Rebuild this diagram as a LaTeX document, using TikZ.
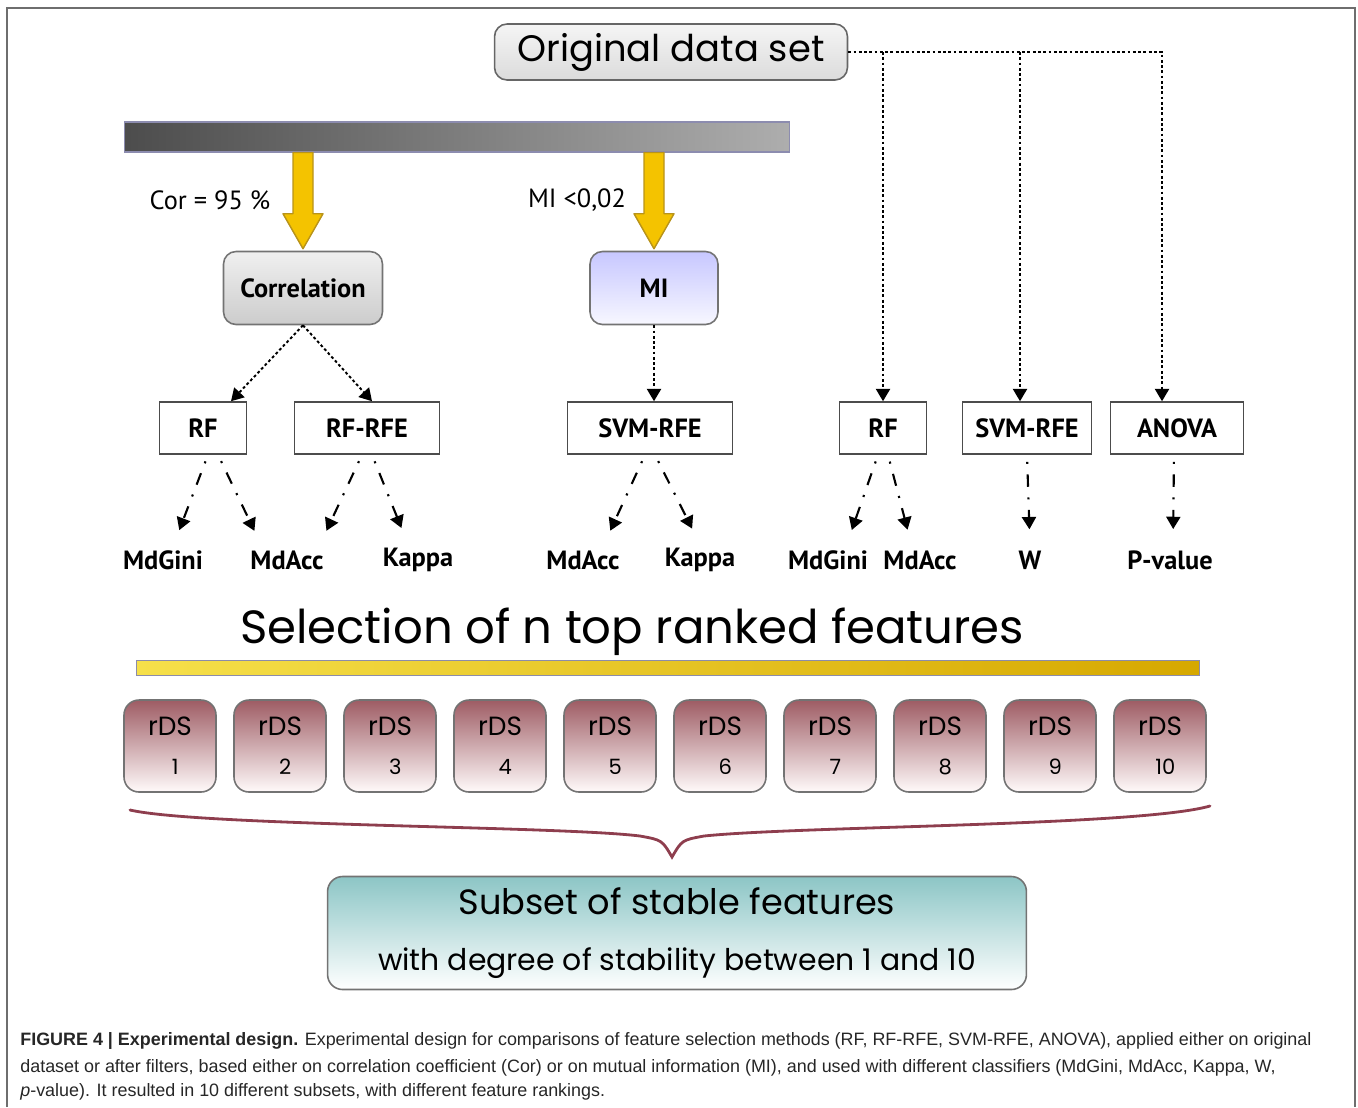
\documentclass[tikz,border=0pt]{standalone}
\usepackage{fontspec}
\setmainfont{Liberation Sans}
\newfontfamily\handfont{Poppins}
\newfontfamily\boxfont{PT Sans}
\usetikzlibrary{arrows.meta,calc}
\definecolor{frame}{HTML}{6E6E6E}
\definecolor{yelarrow}{HTML}{F4C300}
\definecolor{yeledge}{HTML}{B8931A}
\definecolor{bracecol}{HTML}{8E3E4E}
\definecolor{ybarleft}{HTML}{F6E04A}
\definecolor{ybarright}{HTML}{D6A800}
\definecolor{rdstop}{HTML}{9E5C64}
\tikzset{
  tip/.style={-{Triangle[width=8pt,length=7pt]}},
  method/.style={draw=black!70, line width=0.9pt, fill=white, inner sep=0pt,
    minimum height=1.04cm, font=\boxfont\bfseries\fontsize{15}{18}\selectfont},
  filter/.style={draw=black!55, line width=0.9pt, rounded corners=0.25cm, inner sep=0pt,
    minimum height=1.46cm, font=\boxfont\bfseries\fontsize{15}{18}\selectfont},
  clf/.style={font=\boxfont\bfseries\fontsize{15}{18}\selectfont, inner sep=2pt},
  dotline/.style={line width=1.1pt, dash pattern=on 1.6pt off 1.4pt, tip},
  dashdot/.style={line width=1.2pt, dash pattern=on 1.2pt off 6pt on 7pt off 6pt, tip},
  rdsbox/.style={draw=black!55, line width=0.9pt, rounded corners=0.3cm,
    minimum width=1.84cm, minimum height=1.84cm, top color=rdstop, bottom color=red!2,
    align=center, font=\handfont\fontsize{15}{22}\selectfont},
  captext/.style={anchor=west, inner sep=0pt, text=black!85, font=\fontsize{10.2}{12}\selectfont},
}
\begin{document}
\begin{tikzpicture}[x=0.02cm, y=-0.02cm]
  \useasboundingbox (0,0) rectangle (1358,1107);
  % Frame
  \draw[frame, line width=0.8pt] (7,1107) -- (7,8) -- (1355,8) -- (1355,1107);

  % Original data set and filters
  \node[draw=black!60, line width=0.9pt, rounded corners=0.25cm, minimum width=7.06cm, minimum height=1.12cm,
    top color=black!4, bottom color=black!14, font=\handfont\fontsize{21}{24}\selectfont] (orig) at (671,52) {Original data set};
  \node[draw=blue!30!black!45, line width=0.6pt, minimum width=13.32cm, minimum height=0.6cm,
    left color=black!70, right color=black!32, inner sep=0pt] (bar) at (457,137) {};
  \node[filter, minimum width=3.18cm, top color=black!6, bottom color=black!20] (corr) at (303,288) {Correlation};
  \node[filter, minimum width=2.56cm, top color=blue!22, bottom color=blue!3] (mi) at (654,288) {MI};

  % Yellow arrows
  \foreach \n in {corr,mi}{
    \coordinate (s) at (bar.south -| \n.north);
    \coordinate (t) at ($(\n.north)+(0,-2)$);
    \filldraw[fill=yelarrow, draw=yeledge, line width=0.8pt, line join=round]
      ($(s)+(-10,0)$) -- ($(t)+(-10,-35)$) -- ($(t)+(-20,-35)$) -- (t)
      -- ($(t)+(20,-35)$) -- ($(t)+(10,-35)$) -- ($(s)+(10,0)$) -- cycle;
  }
  \node[font=\boxfont\fontsize{15}{18}\selectfont] (cor) at (210,200) {Cor = 95 \%};
  \node[font=\boxfont\fontsize{15}{18}\selectfont] (mil) at (577,200) {MI <0,02};

  % Methods
  \node[method, minimum width=1.74cm] (rfa) at (203,428) {RF};
  \node[method, minimum width=2.90cm] (rfrfe) at (367,428) {RF-RFE};
  \node[method, minimum width=3.30cm] (svma) at (650,428) {SVM-RFE};
  \node[method, minimum width=1.74cm] (rfb) at (883,428) {RF};
  \node[method, minimum width=2.58cm] (svmb) at (1027,428) {SVM-RFE};
  \node[method, minimum width=2.66cm] (anova) at (1177,428) {ANOVA};

  \draw[dotline] (corr.south) -- ($(rfa.north)+(28,0)$);
  \draw[dotline] (corr.south) -- ($(rfrfe.north)+(5,0)$);
  \draw[dotline] (mi.south) -- (mi.south |- svma.north);
  \draw[dotline] (orig.east) -| ($(anova.north)+(-15,0)$);
  \draw[dotline] (orig.east -| rfb.north) -- (rfb.north);
  \draw[dotline] ($(orig.east -| svmb.north)+(-7,0)$) -- ($(svmb.north)+(-7,0)$);

  % Classifiers
  \node[clf] (gini1) at (163,560) {MdGini};
  \node[clf] (acc1) at (287,560) {MdAcc};
  \node[clf] (kap1) at (418,560) {Kappa};
  \node[clf] (acc2) at (583,560) {MdAcc};
  \node[clf] (kap2) at (700,560) {Kappa};
  \node[clf] (gini2) at (828,560) {MdGini};
  \node[clf] (acc3) at (920,560) {MdAcc};
  \node[clf] (w) at (1030,560) {W};
  \node[clf] (pval) at (1170,560) {P-value};
  \foreach \a/\da/\b/\db in {rfa/5/gini1/10, rfa/15/acc1/-25, rfrfe/-5/acc1/32, rfrfe/5/kap1/-10,
                             svma/-5/acc2/20, svma/5/kap2/0, rfb/-5/gini2/18, rfb/5/acc3/-8,
                             svmb/0/w/0, anova/-3/pval/3}
    \draw[dashdot, shorten <=4pt, shorten >=10pt] ($(\a.south)+(\da,0)$) -- ($(\b.north)+(\db,0)$);

  % Selection
  \node[font=\handfont\fontsize{26.5}{30}\selectfont] (sel) at (632,632) {Selection of n top ranked features};
  \node[draw=blue!25!black!45, line width=0.6pt, minimum width=21.26cm, minimum height=0.3cm, inner sep=0pt,
    left color=ybarleft, right color=ybarright] (ybar) at (668,668) {};
  \foreach \i in {1,...,10}
    \node[rdsbox] (r\i) at ({170+110*(\i-1)},746) {rDS\\[0pt]\hspace*{6pt}{\fontsize{12}{14}\selectfont\i}};

  % Brace and result
  \coordinate (bl) at (130,810);
  \coordinate (br) at (1210,806);
  \coordinate (bm) at (672,857);
  \draw[bracecol, line width=1.6pt, line cap=round]
    (bl) .. controls (200,826) and (560,826) .. (640,836) .. controls (662,840) .. (bm)
    .. controls (682,840) .. (704,836) .. controls (800,826) and (1140,826) .. (br);
  \node[draw=black!55, line width=0.9pt, rounded corners=0.3cm, minimum width=13.98cm, minimum height=2.26cm,
    top color=teal!45!white, bottom color=white, align=center] (sub) at (677,933)
    {{\handfont\fontsize{20}{22}\selectfont Subset of stable features}\\[18pt]
     {\handfont\fontsize{17}{18}\selectfont with degree of stability between 1 and 10}};

  % Caption
  \node[captext] (cap1) at (20,1041)
    {\textbf{FIGURE 4 | Experimental design.} Experimental design for comparisons of feature selection methods (RF, RF-RFE, SVM-RFE, ANOVA), applied either on original};
  \node[captext] (cap2) at (20,1068)
    {dataset or after filters, based either on correlation coefficient (Cor) or on mutual information (MI), and used with different classifiers (MdGini, MdAcc, Kappa, W,};
  \node[captext] (cap3) at (20,1092)
    {\textit{p}-value). It resulted in 10 different subsets, with different feature rankings.};
\end{tikzpicture}
\end{document}
